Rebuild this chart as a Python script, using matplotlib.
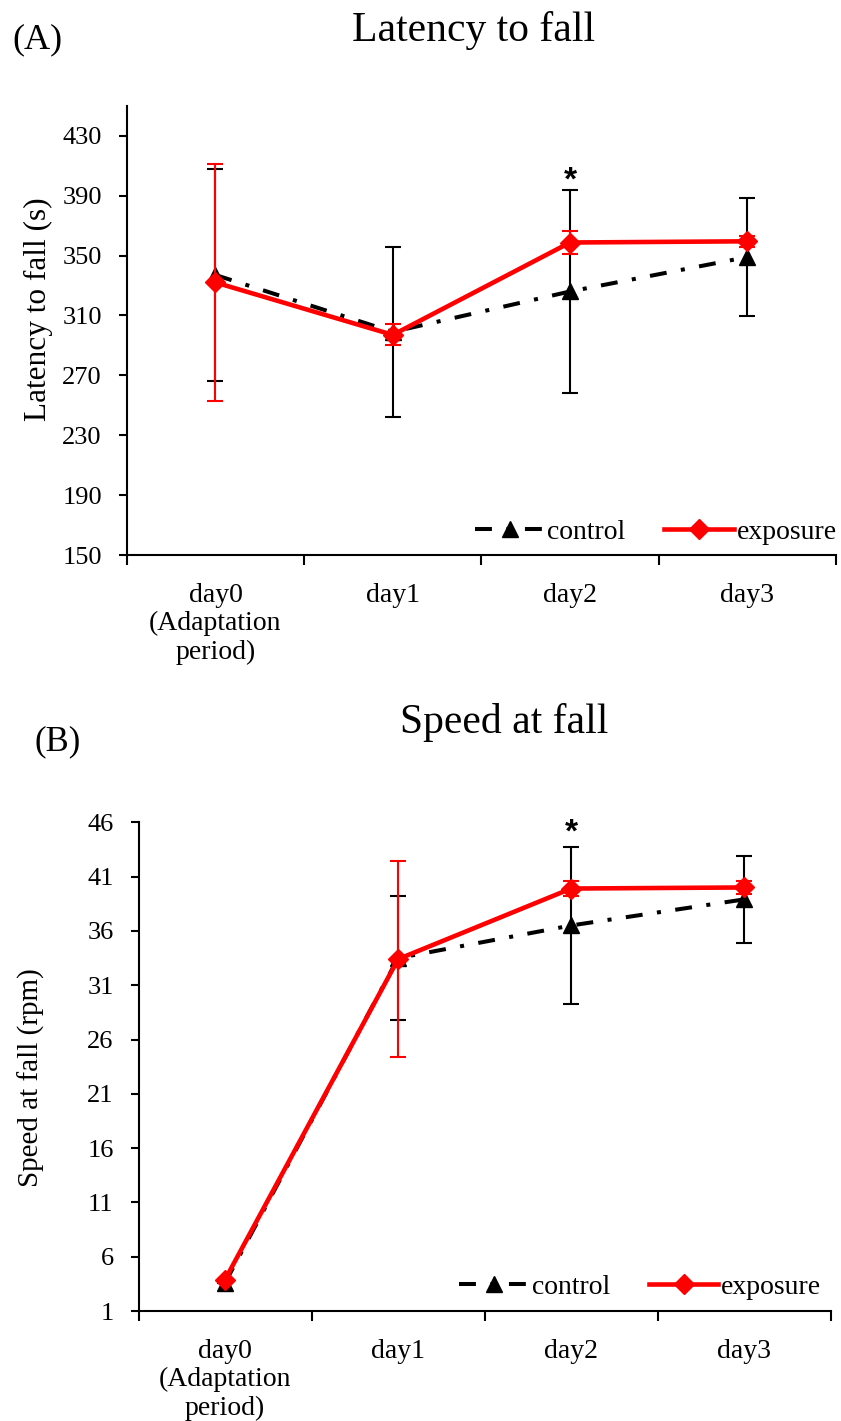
import numpy as np
import matplotlib
matplotlib.use("Agg")
import matplotlib.pyplot as plt
from matplotlib.lines import Line2D

plt.rcParams['font.family'] = ['Liberation Serif', 'DejaVu Serif']

# ---- data -------------------------------------------------------------
days = ["day0\n(Adaptation\nperiod)", "day1", "day2", "day3"]

latency_control = [337, 299, 326, 349]
latency_control_sd = [71, 57, 68, 39.5]
latency_exposure = [332, 297, 358.7, 359.5]
latency_exposure_sd = [79, 7, 8, 3.7]

speed_control = [3.6, 33.5, 36.5, 38.9]
speed_control_sd = [0, 5.75, 7.2, 4.0]
speed_exposure = [3.9, 33.4, 39.9, 40.0]
speed_exposure_sd = [0, 9.0, 0.7, 0.6]

latency_ticks = list(range(150, 431, 40))
speed_ticks = list(range(1, 47, 5))

# ---- styling ----------------------------------------------------------
W, H = 841, 1421
RED = '#ff0000'
DASHDOT = (0, (4.2, 3.6, 1, 3.6))


def px_rect(left, top, right, bottom):
    return [left / W, 1 - bottom / H, (right - left) / W, (bottom - top) / H]


def draw_panel(ax, ctrl, ctrl_sd, expo, expo_sd, ylim, yticks, legend_xy,
               star_offset):
    x = np.arange(len(days)) + 0.5
    ax.errorbar(x, ctrl, yerr=ctrl_sd, color='black', ls=DASHDOT, lw=2.9,
                marker='^', ms=11, ecolor='black', elinewidth=1.5,
                capsize=6, capthick=1.5, zorder=3)
    ax.errorbar(x, expo, yerr=expo_sd, color=RED, ls='-', lw=3.3,
                marker='D', ms=10, ecolor=RED, elinewidth=1.5,
                capsize=6, capthick=1.5, zorder=4)

    ax.set_xlim(0, len(days))
    ax.set_ylim(*ylim)
    ax.set_yticks(yticks)
    ax.set_xticks(np.arange(len(days) + 1))
    ax.set_xticklabels([])
    ax.set_xticks(x, minor=True)
    ax.set_xticklabels(days, minor=True, linespacing=1.17)

    for s in ('top', 'right'):
        ax.spines[s].set_visible(False)
    for s in ('left', 'bottom'):
        ax.spines[s].set_linewidth(1.5)

    ax.tick_params(axis='y', direction='out', length=6, width=1.5,
                   pad=12, labelsize=19)
    ax.tick_params(axis='x', which='major', direction='out', length=7,
                   width=1.5)
    ax.tick_params(axis='x', which='minor', length=0, pad=20,
                   labelsize=20)

    # significance mark above the day2 control error bar
    top2 = ctrl[2] + ctrl_sd[2]
    ax.annotate('*', xy=(x[2], top2), xytext=(0, star_offset),
                textcoords='offset points', ha='center', va='center',
                fontsize=24, fontweight='bold', family='Liberation Sans')

    handles = [
        Line2D([], [], color='black', ls=DASHDOT, lw=2.9, marker='^', ms=11),
        Line2D([], [], color=RED, ls='-', lw=3.3, marker='D', ms=10),
    ]
    ax.legend(handles, ['control', 'exposure'], loc='center',
              bbox_to_anchor=legend_xy, ncol=2, frameon=False,
              fontsize=20, handlelength=2.5, handletextpad=0.1,
              columnspacing=1.4, borderpad=0, numpoints=1)


fig = plt.figure(figsize=(W / 100, H / 100), dpi=100)

ax1 = fig.add_axes(px_rect(126.8, 105.8, 836, 555))
draw_panel(ax1, latency_control, latency_control_sd, latency_exposure,
           latency_exposure_sd, (150, 450), latency_ticks, (0.746, 0.051), 6)

ax2 = fig.add_axes(px_rect(138.6, 822.3, 830.6, 1311))
draw_panel(ax2, speed_control, speed_control_sd, speed_exposure,
           speed_exposure_sd, (1, 46), speed_ticks, (0.725, 0.049), 10)

# titles, panel letters and axis titles
fig.text(474 / W, 1 - 41 / H, 'Latency to fall', ha='center',
         va='baseline', fontsize=30)
fig.text(12 / W, 1 - 48 / H, '(A)', ha='left', va='baseline', fontsize=26)
fig.text(38 / W, 1 - 309 / H, 'Latency to fall (s)', ha='center',
         va='center', rotation=90, fontsize=22.5)

fig.text(504 / W, 1 - 733 / H, 'Speed at fall', ha='center',
         va='baseline', fontsize=30)
fig.text(35 / W, 1 - 750 / H, '(B)', ha='left', va='baseline', fontsize=25)
fig.text(31 / W, 1 - 1078 / H, 'Speed at fall (rpm)', ha='center',
         va='center', rotation=90, fontsize=21)

fig.savefig('out.png', dpi=100)
